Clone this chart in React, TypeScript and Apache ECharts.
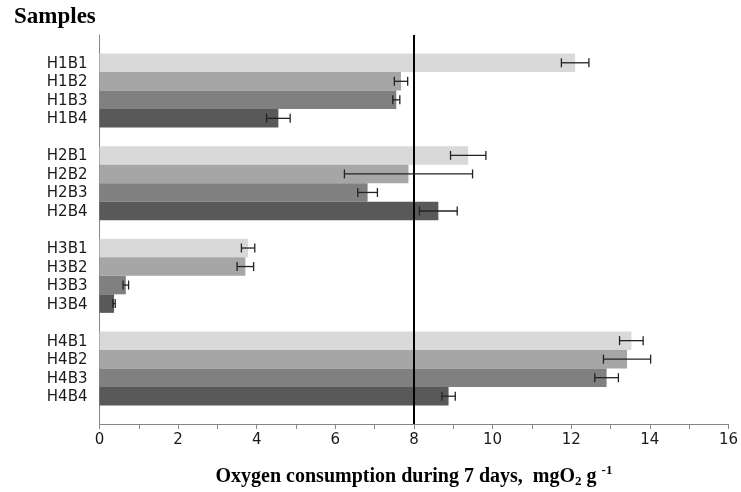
import React, { useEffect, useRef } from "react";
import * as echarts from "echarts";

const groups = ["H1", "H2", "H3", "H4"];
const samples = [
  "H1B1", "H1B2", "H1B3", "H1B4",
  "H2B1", "H2B2", "H2B3", "H2B4",
  "H3B1", "H3B2", "H3B3", "H3B4",
  "H4B1", "H4B2", "H4B3", "H4B4",
];
const values = [
  12.1, 7.67, 7.55, 4.55,
  9.38, 7.86, 6.82, 8.62,
  3.78, 3.71, 0.67, 0.37,
  13.53, 13.42, 12.9, 8.88,
];
const errors = [
  0.35, 0.17, 0.09, 0.3,
  0.45, 1.63, 0.25, 0.48,
  0.17, 0.21, 0.07, 0.03,
  0.3, 0.6, 0.3, 0.17,
];
const blockColors = ["#d9d9d9", "#a6a6a6", "#808080", "#595959"];
const referenceLine = 8;
const xTicks = { min: 0, max: 16, interval: 2 };

export default function App() {
  const ref = useRef<HTMLDivElement>(null);

  useEffect(() => {
    if (!ref.current) return;
    const chart = echarts.init(ref.current, null, { renderer: "svg" });

    const cats: string[] = [];
    const barData: any[] = [];
    const errData: any[] = [];
    let gapN = 0;
    cats.push("gap" + gapN++);
    barData.push("-");
    groups.forEach((g, gi) => {
      if (gi > 0) {
        cats.push("gap" + gapN++);
        barData.push("-");
      }
      for (let b = 0; b < 4; b++) {
        const i = gi * 4 + b;
        const idx = cats.length;
        cats.push(samples[i]);
        barData.push({ value: values[i], itemStyle: { color: blockColors[b] } });
        errData.push([values[i], idx, errors[i]]);
      }
    });
    cats.push("gap" + gapN++);
    barData.push("-");

    chart.setOption({
      animation: false,
      title: {
        text: "Samples",
        left: 9,
        top: -1,
        textStyle: {
          fontFamily: "Liberation Serif",
          fontWeight: "bold",
          fontSize: 23,
          color: "#000",
        },
      },
      grid: { left: 99.5, right: 10.5, top: 35, bottom: 67, containLabel: false },
      xAxis: {
        type: "value",
        min: xTicks.min,
        max: xTicks.max,
        interval: xTicks.interval,
        splitLine: { show: false },
        axisLine: { show: true, lineStyle: { color: "#868686", width: 1 } },
        axisTick: { show: true, length: 5, lineStyle: { color: "#868686" } },
        minorTick: { show: true, splitNumber: 2, length: 5, lineStyle: { color: "#868686" } },
        axisLabel: {
          fontFamily: "DejaVu Sans",
          fontSize: 15,
          color: "#1a1a1a",
          margin: 7,
        },
        name:
          "{b|Oxygen consumption during 7 days,  mgO}{sub|2}{b| g }{sup|-1}",
        nameLocation: "middle",
        nameGap: 39,
        nameTextStyle: {
          rich: {
            b: {
              fontFamily: "Liberation Serif",
              fontWeight: "bold",
              fontSize: 20,
              lineHeight: 24,
              color: "#000",
            },
            sub: {
              fontFamily: "Liberation Serif",
              fontWeight: "bold",
              fontSize: 13,
              lineHeight: 13,
              verticalAlign: "bottom",
              color: "#000",
            },
            sup: {
              fontFamily: "Liberation Serif",
              fontWeight: "bold",
              fontSize: 13,
              lineHeight: 13,
              verticalAlign: "top",
              color: "#000",
            },
          },
        },
      },
      yAxis: {
        type: "category",
        data: cats,
        inverse: true,
        axisLine: { show: true, lineStyle: { color: "#868686", width: 1 } },
        axisTick: { show: false },
        splitLine: { show: false },
        axisLabel: {
          interval: 0,
          fontFamily: "DejaVu Sans",
          fontSize: 15,
          color: "#1a1a1a",
          margin: 12,
          formatter: (v: string) => (v.startsWith("gap") ? "" : v),
        },
      },
      series: [
        {
          type: "bar",
          data: barData,
          barCategoryGap: "0%",
          markLine: {
            silent: true,
            symbol: "none",
            label: { show: false },
            lineStyle: { color: "#000", width: 2, type: "solid" },
            data: [{ xAxis: referenceLine }],
          },
        },
        {
          type: "custom",
          data: errData,
          encode: { x: 0, y: 1 },
          z: 5,
          renderItem: (params: any, api: any) => {
            const v = api.value(0);
            const y = api.value(1);
            const e = api.value(2);
            const p1 = api.coord([v - e, y]);
            const p2 = api.coord([v + e, y]);
            const h = 4.5;
            const style = { stroke: "#222", lineWidth: 1.3 };
            return {
              type: "group",
              children: [
                { type: "line", shape: { x1: p1[0], y1: p1[1], x2: p2[0], y2: p2[1] }, style },
                { type: "line", shape: { x1: p1[0], y1: p1[1] - h, x2: p1[0], y2: p1[1] + h }, style },
                { type: "line", shape: { x1: p2[0], y1: p2[1] - h, x2: p2[0], y2: p2[1] + h }, style },
              ],
            };
          },
        },
      ],
    });

    return () => chart.dispose();
  }, []);

  return (
    <div
      ref={ref}
      style={{ position: "fixed", left: 0, top: 0, width: 741, height: 492 }}
    />
  );
}
